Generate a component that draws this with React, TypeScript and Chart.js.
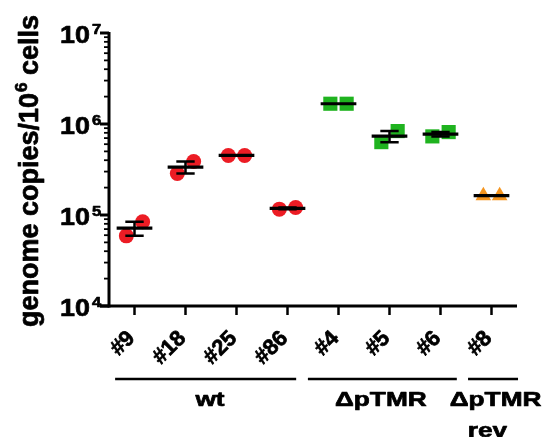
import React, { useEffect, useRef } from 'react';
import { Chart, registerables } from 'chart.js';

Chart.register(...registerables);

// ---------- data ----------
const categories = ['#9', '#18', '#25', '#86', '#4', '#5', '#6', '#8'];
const replicateA = [59000, 286000, 451000, 116000, 1670000, 632000, 731000, 163000];
const replicateB = [84400, 387000, 451000, 121000, 1670000, 836000, 815000, 163000];
const groupOfCategory = [0, 0, 0, 0, 1, 1, 1, 2];
const groupNames = ['wt', 'ΔpTMR', 'ΔpTMR\nrev'];
const groupColors = ['#ec1c24', '#1fb31f', '#f5951f'];
const groupMarkers = ['circle', 'rect', 'triangle'];
const groupMarkerRadius = [7.5, 10, 9];
const groupLineFrom = [-0.38, 3.4, 6.54];
const groupLineTo = [3.17, 6.32, 7.52];
const groupLabelAt = [1.48, 4.83, 7.08];
const groupSecondLineAt = [0, 0, 6.92];
const yMajorExponents = [4, 5, 6, 7];
const yAxisTitleParts = ['genome copies/10', '6', ' cells'];

const FONT = '"Liberation Sans", Arial, Helvetica, sans-serif';

const means = categories.map((_, i) => (replicateA[i] + replicateB[i]) / 2);
const sems = categories.map((_, i) => Math.abs(replicateA[i] - replicateB[i]) / 2);

function buildPoints(g: number) {
  const pts: { x: number; y: number }[] = [];
  categories.forEach((_, i) => {
    if (groupOfCategory[i] !== g) return;
    pts.push({ x: i - 0.16, y: replicateA[i] });
    pts.push({ x: i + 0.16, y: replicateB[i] });
  });
  return pts;
}

function buildMeanLines() {
  const pts: { x: number; y: number | null }[] = [];
  categories.forEach((_, i) => {
    pts.push({ x: i - 0.35, y: means[i] });
    pts.push({ x: i + 0.35, y: means[i] });
    pts.push({ x: i + 0.4, y: null });
  });
  return pts;
}

function buildErrorBars() {
  const pts: { x: number; y: number | null }[] = [];
  categories.forEach((_, i) => {
    if (sems[i] <= 0) return;
    const lo = means[i] - sems[i];
    const hi = means[i] + sems[i];
    pts.push({ x: i - 0.18, y: hi });
    pts.push({ x: i + 0.18, y: hi });
    pts.push({ x: i + 0.2, y: null });
    pts.push({ x: i, y: hi });
    pts.push({ x: i, y: lo });
    pts.push({ x: i + 0.01, y: null });
    pts.push({ x: i - 0.18, y: lo });
    pts.push({ x: i + 0.18, y: lo });
    pts.push({ x: i + 0.2, y: null });
  });
  return pts;
}

function boldText(ctx: CanvasRenderingContext2D, text: string, x: number, y: number) {
  ctx.lineWidth = 0.7;
  ctx.lineJoin = 'round';
  ctx.strokeText(text, x, y);
  ctx.fillText(text, x, y);
}

function stretchedText(
  ctx: CanvasRenderingContext2D,
  text: string,
  x: number,
  y: number,
  sx: number,
  align: CanvasTextAlign
) {
  ctx.save();
  ctx.translate(x, y);
  ctx.scale(sx, 1);
  ctx.textAlign = align;
  boldText(ctx, text, 0, 0);
  ctx.restore();
}

const axesPlugin = {
  id: 'customAxes',
  beforeDatasetsDraw(chart: any) {
    const ctx: CanvasRenderingContext2D = chart.ctx;
    const xs = chart.scales.x;
    const ys = chart.scales.y;
    const left = xs.getPixelForValue(-0.5);
    const right = xs.getPixelForValue(7.5);
    const top = ys.getPixelForValue(Math.pow(10, yMajorExponents[yMajorExponents.length - 1]));
    const bottom = ys.getPixelForValue(Math.pow(10, yMajorExponents[0]));
    ctx.save();
    ctx.strokeStyle = '#000';
    ctx.lineCap = 'butt';
    ctx.lineWidth = 3;
    ctx.beginPath();
    ctx.moveTo(left, top - 1);
    ctx.lineTo(left, bottom + 1.5);
    ctx.stroke();
    ctx.beginPath();
    ctx.moveTo(left - 9, bottom);
    ctx.lineTo(right, bottom);
    ctx.stroke();
    yMajorExponents.forEach((e, k) => {
      const y = ys.getPixelForValue(Math.pow(10, e));
      ctx.lineWidth = 3;
      ctx.beginPath();
      ctx.moveTo(left - 9, y);
      ctx.lineTo(left, y);
      ctx.stroke();
      if (k < yMajorExponents.length - 1) {
        for (let m = 2; m <= 9; m++) {
          const ym = ys.getPixelForValue(m * Math.pow(10, e));
          ctx.lineWidth = 1.8;
          ctx.beginPath();
          ctx.moveTo(left - 5, ym);
          ctx.lineTo(left, ym);
          ctx.stroke();
        }
      }
    });
    categories.forEach((_, i) => {
      const x = xs.getPixelForValue(i);
      ctx.lineWidth = 2.5;
      ctx.beginPath();
      ctx.moveTo(x, bottom);
      ctx.lineTo(x, bottom + 9);
      ctx.stroke();
    });
    ctx.restore();
  },
  afterDraw(chart: any) {
    const ctx: CanvasRenderingContext2D = chart.ctx;
    const xs = chart.scales.x;
    const ys = chart.scales.y;
    const left = xs.getPixelForValue(-0.5);
    const bottom = ys.getPixelForValue(Math.pow(10, yMajorExponents[0]));
    ctx.save();
    ctx.fillStyle = '#000';
    ctx.strokeStyle = '#000';
    // y tick labels
    yMajorExponents.forEach((e) => {
      const y = ys.getPixelForValue(Math.pow(10, e));
      ctx.font = `bold 24px ${FONT}`;
      ctx.textBaseline = 'alphabetic';
      stretchedText(ctx, '10', left - 19, y + 10, 1.12, 'right');
      ctx.font = `bold 15px ${FONT}`;
      stretchedText(ctx, String(e), left - 17, y + 1, 1.1, 'left');
    });
    // x tick labels (rotated)
    categories.forEach((c, i) => {
      const x = xs.getPixelForValue(i);
      ctx.save();
      ctx.translate(x - 3, bottom + 29);
      ctx.rotate(-Math.PI / 4);
      ctx.font = `bold 22px ${FONT}`;
      ctx.textAlign = 'right';
      ctx.textBaseline = 'middle';
      boldText(ctx, c, 0, 0);
      ctx.restore();
    });
    // group lines and labels
    groupNames.forEach((name, g) => {
      const x1 = xs.getPixelForValue(groupLineFrom[g]);
      const x2 = xs.getPixelForValue(groupLineTo[g]);
      ctx.lineWidth = 2.5;
      ctx.beginPath();
      ctx.moveTo(x1, bottom + 73);
      ctx.lineTo(x2, bottom + 73);
      ctx.stroke();
      const lines = name.split('\n');
      ctx.font = `bold 21px ${FONT}`;
      ctx.textBaseline = 'alphabetic';
      stretchedText(ctx, lines[0], xs.getPixelForValue(groupLabelAt[g]), bottom + 100, 1.25, 'center');
      if (lines[1]) {
        stretchedText(ctx, lines[1], xs.getPixelForValue(groupSecondLineAt[g]), bottom + 131, 1.25, 'center');
      }
    });
    // y axis title
    ctx.save();
    const cy = (ys.getPixelForValue(Math.pow(10, yMajorExponents[0])) + ys.getPixelForValue(Math.pow(10, yMajorExponents[yMajorExponents.length - 1]))) / 2;
    ctx.translate(38, cy + 2);
    ctx.rotate(-Math.PI / 2);
    ctx.textBaseline = 'alphabetic';
    ctx.textAlign = 'left';
    const mainFont = `bold 27px ${FONT}`;
    const supFont = `bold 17px ${FONT}`;
    ctx.font = mainFont;
    const w1 = ctx.measureText(yAxisTitleParts[0]).width;
    const w3 = ctx.measureText(yAxisTitleParts[2]).width;
    ctx.font = supFont;
    const w2 = ctx.measureText(yAxisTitleParts[1]).width;
    let px = -(w1 + w2 + w3) / 2;
    ctx.font = mainFont;
    boldText(ctx, yAxisTitleParts[0], px, 0);
    px += w1;
    ctx.font = supFont;
    boldText(ctx, yAxisTitleParts[1], px + 1, -11);
    px += w2 + 1;
    ctx.font = mainFont;
    boldText(ctx, yAxisTitleParts[2], px, 0);
    ctx.restore();
    ctx.restore();
  },
};

export default function App() {
  const canvasRef = useRef<HTMLCanvasElement>(null);

  useEffect(() => {
    if (!canvasRef.current) return;
    const pointSets = groupNames.map((name, g) => ({
      type: 'scatter' as const,
      label: name,
      data: buildPoints(g),
      pointStyle: groupMarkers[g] as any,
      pointRadius: groupMarkerRadius[g],
      pointBackgroundColor: groupColors[g],
      pointBorderColor: groupColors[g],
      pointBorderWidth: 0,
      showLine: false,
      order: 2,
    }));
    const chart = new Chart(canvasRef.current, {
      type: 'scatter',
      data: {
        datasets: [
          {
            label: 'mean',
            data: buildMeanLines() as any,
            showLine: true,
            spanGaps: false,
            borderColor: '#000',
            borderWidth: 3.2,
            borderCapStyle: 'butt',
            pointRadius: 0,
            order: 0,
          },
          {
            label: 'sem',
            data: buildErrorBars() as any,
            showLine: true,
            spanGaps: false,
            borderColor: '#000',
            borderWidth: 2.5,
            borderCapStyle: 'butt',
            pointRadius: 0,
            order: 1,
          },
          ...pointSets,
        ] as any,
      },
      options: {
        animation: false,
        responsive: true,
        maintainAspectRatio: false,
        layout: { padding: { left: 109, top: 33, right: 25, bottom: 131 } },
        plugins: { legend: { display: false }, tooltip: { enabled: false } },
        scales: {
          x: { type: 'linear', min: -0.5, max: 7.5, display: false },
          y: { type: 'logarithmic', min: 1e4, max: 1e7, display: false },
        },
      },
      plugins: [axesPlugin],
    });
    return () => chart.destroy();
  }, []);

  return (
    <div style={{ position: 'fixed', left: 0, top: 0, width: 542, height: 437, background: '#fff' }}>
      <canvas ref={canvasRef} />
    </div>
  );
}
